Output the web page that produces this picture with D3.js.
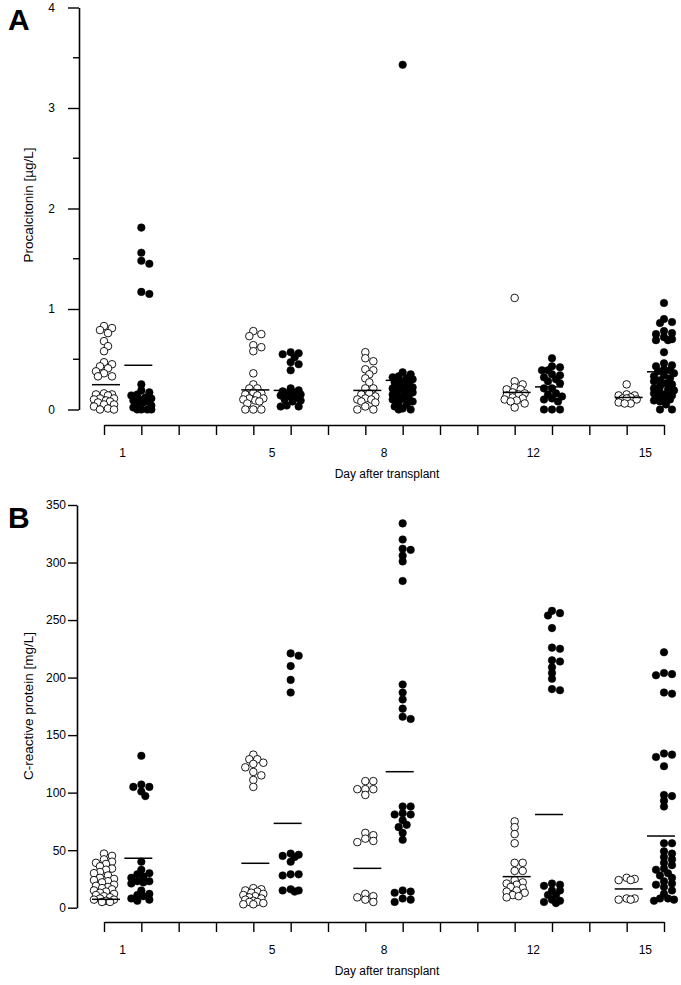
<!DOCTYPE html>
<html><head><meta charset="utf-8">
<script src="https://cdn.jsdelivr.net/npm/d3@7"></script>
<style>
html,body{margin:0;padding:0;background:#fff;}
svg{display:block;font-family:"Liberation Sans",Arial,Helvetica,sans-serif;}
</style></head>
<body>
<svg id="chart" width="681" height="985"></svg>
<script>
// ---- data ----
const days = [1, 5, 8, 12, 15];

// Panel A: Procalcitonin [µg/L]
const pctOpen = [
  [0.83,0.81,0.79,0.76,0.68,0.63,0.58,0.47,0.45,0.43,0.41,0.38,0.36,0.33,0.33,0.16,0.15,0.15,0.14,0.11,0.11,0.10,0.09,0.08,0.07,0.05,0.05,0.03,0.01,0,0],
  [0.78,0.75,0.73,0.64,0.62,0.58,0.36,0.25,0.21,0.21,0.17,0.16,0.15,0.14,0.11,0.11,0.10,0.09,0.08,0.06,0,0,0],
  [0.57,0.51,0.48,0.40,0.39,0.35,0.31,0.27,0.21,0.21,0.16,0.15,0.13,0.11,0.10,0.10,0.08,0.07,0.03,0,0],
  [1.11,0.28,0.25,0.22,0.20,0.20,0.17,0.16,0.15,0.14,0.12,0.11,0.10,0.09,0.08,0.06,0.02],
  [0.25,0.15,0.14,0.14,0.12,0.11,0.11,0.10,0.07,0.06,0.06]
];
const pctFilled = [
  [1.81,1.56,1.48,1.45,1.17,1.15,0.25,0.19,0.17,0.15,0.14,0.12,0.11,0.10,0.09,0.08,0.07,0.06,0.04,0.02,0,0,0,0],
  [0.57,0.56,0.55,0.52,0.47,0.45,0.39,0.21,0.19,0.18,0.17,0.16,0.15,0.14,0.13,0.12,0.10,0.09,0.08,0.04,0.03,0.03],
  [3.43,0.37,0.35,0.33,0.32,0.31,0.30,0.28,0.27,0.26,0.25,0.24,0.22,0.21,0.20,0.19,0.18,0.17,0.16,0.15,0.13,0.12,0.11,0.10,0.08,0.07,0.05,0.03,0.01,0,0],
  [0.51,0.43,0.42,0.39,0.39,0.35,0.34,0.32,0.30,0.28,0.26,0.21,0.21,0.16,0.15,0.13,0.11,0.10,0.08,0,0,0],
  [1.06,0.90,0.87,0.86,0.78,0.76,0.75,0.72,0.70,0.69,0.69,0.57,0.46,0.44,0.43,0.40,0.39,0.38,0.36,0.34,0.33,0.31,0.29,0.28,0.26,0.25,0.23,0.21,0.20,0.19,0.17,0.16,0.15,0.14,0.12,0.11,0.10,0.09,0.08,0.05,0,0]
];
const pctOpenLine = [0.247, 0.195, 0.19, 0.17, 0.12];
const pctFilledLine = [0.44, 0.19, 0.29, 0.225, 0.375];
const pctTicks = [0, 1, 2, 3, 4];
const pctMinorTicks = [0.5, 1.5, 2.5, 3.5];

// Panel B: C-reactive protein [mg/L]
const crpOpen = [
  [47,45,42,40,39,38,36,34,33,31,30,28,26,25,24,23,22,20,19,18,17,16,15,14,13,12,11,10,9,8,7,7,6,5,5],
  [133,129,129,126,125,122,118,115,111,105,17,16,15,14,13,12,11,10,9,8,7,6,5,5,4,3,3],
  [110,110,103,103,103,98,65,63,60,58,57,12,10,9,7,5],
  [75,70,64,56,39,39,32,32,24,22,21,20,18,17,15,14,13,11,10,9],
  [26,25,24,24,8,8,7,7]
];
const crpFilled = [
  [132,107,105,105,101,97,40,33,30,29,27,26,23,23,22,21,15,12,11,10,8,7,6],
  [221,219,210,198,187,47,46,45,44,40,29,29,28,16,15,15,14],
  [334,320,312,311,306,301,284,194,187,181,173,166,164,88,88,82,81,81,76,72,70,65,59,15,14,13,8,7,5],
  [258,256,254,243,226,225,215,214,209,204,199,190,189,21,20,19,15,15,11,11,7,6,5,4],
  [222,204,203,202,187,186,134,133,131,123,98,97,93,88,56,56,49,47,44,42,39,37,34,33,30,28,26,23,21,20,18,15,12,8,8,7,6]
];
const crpOpenLine = [7.3, 38.6, 34.2, 27, 16.3];
const crpFilledLine = [43, 73.3, 118.2, 81, 62.3];
const crpTicks = [0, 50, 100, 150, 200, 250, 300, 350];

// ---- drawing ----
const svg = d3.select("#chart");
const R = 3.8;

const x = d3.scaleLinear().domain([0.5, 15.5]).range([104, 664]);
const xTicks = d3.range(0.5, 15.6, 1);

function dodge(values, cx, y) {
  // deterministic horizontal spreading of overlapping points
  const placed = [];
  const order = values.map((v, i) => ({v, i})).sort((a, b) => b.v - a.v);
  const cands = [0, 4, -4, 8, -8, 2, -2, 6, -6, 10, -10];
  const out = new Array(values.length);
  order.forEach(o => {
    const py = y(o.v);
    let best = null, bestD = -1;
    for (const c of cands) {
      let md = Infinity;
      for (const p of placed) {
        const d = Math.hypot(p.x - (cx + c), p.y - py);
        if (d < md) md = d;
      }
      if (md >= 5.5) { best = c; bestD = md; break; }
      if (md > bestD) { bestD = md; best = c; }
    }
    const pt = {x: cx + best, y: py};
    placed.push(pt);
    out[o.i] = pt;
  });
  return out;
}

function panel(cfg) {
  const g = svg.append("g");
  const y = d3.scaleLinear().domain(cfg.domain).range(cfg.yRange);

  // y axis
  const yAxis = d3.axisLeft(y).tickValues(cfg.ticks).tickSize(cfg.tickLen).tickPadding(cfg.tickPad)
    .tickSizeOuter(0).tickFormat(d3.format("d"));
  const ya = g.append("g").attr("transform", `translate(${cfg.axisX},0)`).call(yAxis);
  ya.select(".domain").attr("stroke", "#000").attr("stroke-width", 1.6);
  ya.selectAll(".tick line").attr("stroke", "#000").attr("stroke-width", 1.4);
  ya.selectAll(".tick text").attr("font-size", 12).attr("fill", "#000")
    .attr("font-family", "Liberation Sans, Arial, sans-serif");
  if (cfg.minor) {
    g.append("g").selectAll("line").data(cfg.minor).join("line")
      .attr("x1", cfg.axisX - 6).attr("x2", cfg.axisX)
      .attr("y1", d => y(d)).attr("y2", d => y(d))
      .attr("stroke", "#000").attr("stroke-width", 1.4);
  }

  // x axis
  const xAxis = d3.axisBottom(x).tickValues(xTicks).tickSize(10).tickFormat("").tickSizeOuter(0);
  const xa = g.append("g").attr("transform", `translate(0,${cfg.axisY})`).call(xAxis);
  xa.select(".domain").attr("stroke", "#000").attr("stroke-width", 1.6);
  xa.selectAll(".tick line").attr("stroke", "#000").attr("stroke-width", 1.4);
  g.append("g").selectAll("text").data(days).join("text")
    .attr("x", d => x(d)).attr("y", cfg.axisY + 32)
    .attr("text-anchor", "middle").attr("font-size", 12).text(d => d);
  g.append("text").attr("x", 387).attr("y", cfg.axisY + 53)
    .attr("text-anchor", "middle").attr("font-size", 12).text("Day after transplant");

  // y title
  g.append("text").attr("transform", `translate(${cfg.titleX},${cfg.titleY}) rotate(-90)`)
    .attr("text-anchor", "middle").attr("font-size", 13.5).text(cfg.title);

  // panel letter
  g.append("text").attr("x", 8).attr("y", cfg.letterY).attr("font-size", 30)
    .attr("font-weight", "bold").text(cfg.letter);

  // points
  days.forEach((d, i) => {
    const po = dodge(cfg.open[i], x(d - 0.5), y);
    g.append("g").selectAll("circle").data(po).join("circle")
      .attr("cx", p => p.x).attr("cy", p => p.y).attr("r", R)
      .attr("fill", "#fff").attr("stroke", "#000").attr("stroke-width", 0.9);
    const pf = dodge(cfg.filled[i], x(d + 0.5), y);
    g.append("g").selectAll("circle").data(pf).join("circle")
      .attr("cx", p => p.x).attr("cy", p => p.y).attr("r", R)
      .attr("fill", "#000").attr("stroke", "#000").attr("stroke-width", 0.5);
    // central lines
    const co = x(d - 0.5) + 2, cf = x(d + 0.5) - 3;
    g.append("line").attr("x1", co - 14).attr("x2", co + 14)
      .attr("y1", y(cfg.openLine[i])).attr("y2", y(cfg.openLine[i]))
      .attr("stroke", "#000").attr("stroke-width", 1.5);
    g.append("line").attr("x1", cf - 14).attr("x2", cf + 14)
      .attr("y1", y(cfg.filledLine[i])).attr("y2", y(cfg.filledLine[i]))
      .attr("stroke", "#000").attr("stroke-width", 1.5);
  });
}

panel({
  domain: [0, 4], yRange: [409.5, 7.5], ticks: pctTicks, minor: pctMinorTicks,
  tickLen: 11, tickPad: 13, axisX: 79, axisY: 425,
  title: "Procalcitonin [µg/L]", titleX: 33, titleY: 205,
  letter: "A", letterY: 30,
  open: pctOpen, filled: pctFilled, openLine: pctOpenLine, filledLine: pctFilledLine
});

panel({
  domain: [0, 350], yRange: [907.7, 505], ticks: crpTicks, minor: null,
  tickLen: 9, tickPad: 2, axisX: 77, axisY: 922,
  title: "C-reactive protein [mg/L]", titleX: 33, titleY: 706,
  letter: "B", letterY: 528,
  open: crpOpen, filled: crpFilled, openLine: crpOpenLine, filledLine: crpFilledLine
});
</script>
</body></html>
